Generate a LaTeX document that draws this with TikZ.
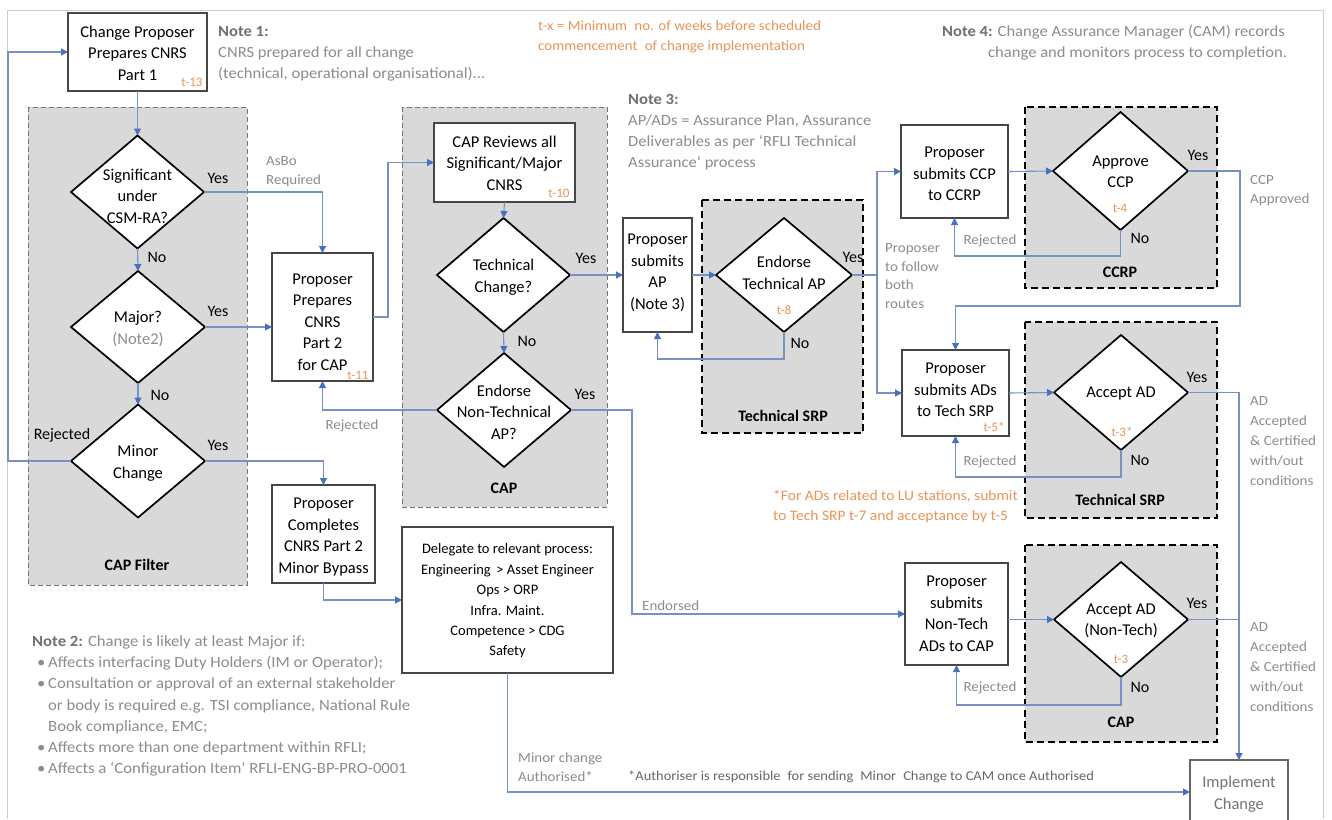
\documentclass[tikz,border=0pt]{standalone}
\usepackage{fontspec}
\setmainfont{Carlito}
\newfontfamily\wfont{Carlito}[FakeStretch=1.07]
\usetikzlibrary{shapes.geometric,arrows.meta}
\definecolor{conn}{RGB}{118,146,196}
\definecolor{tip}{RGB}{72,112,190}
\definecolor{panel}{RGB}{217,217,217}
\definecolor{notec}{RGB}{140,140,140}
\definecolor{noteb}{RGB}{112,112,112}
\definecolor{orng}{RGB}{232,148,88}
\definecolor{boxc}{RGB}{70,70,70}
\definecolor{framec}{RGB}{205,205,205}
\newcommand{\fz}[2]{\fontsize{#1}{#2}\selectfont}
\begin{document}
\begin{tikzpicture}[x=1pt,y=-1pt,
  box/.style={draw=boxc,line width=1.1pt,fill=white,align=center,inner sep=0pt,outer sep=0pt,font=\fz{16.5}{21.5}},
  dia/.style={diamond,draw=black,line width=1.7pt,fill=white,inner sep=0pt,outer sep=0pt},
  dtxt/.style={align=center,inner sep=0pt,font=\fz{16.5}{21.5}},
  tx/.style={inner sep=0pt,text=orng,font=\fz{13}{15}},
  yn/.style={inner sep=0pt,font=\fz{16}{19}},
  plab/.style={inner sep=0pt,font=\fz{16}{19}\bfseries},
  glab/.style={inner sep=0pt,text=notec,align=left,font=\wfont\fz{14}{19}},
  note/.style={inner sep=0pt,text=notec,align=left,font=\wfont\fz{15.5}{21}},
  panelg/.style={fill=panel,draw=black!55,line width=1pt,dash pattern=on 5pt off 3pt},
  panelk/.style={fill=panel,draw=black,line width=2pt,dash pattern=on 7pt off 4pt},
  conn/.style={draw=conn,line width=1.1pt},
  arr/.style={conn,-{Triangle[length=7pt,width=7pt,color=tip]}}]
\useasboundingbox (0,0) rectangle (1332,819);
\fill[white] (0,0) rectangle (1332,819);
\draw[framec,line width=1pt] (7,819) -- (7,10) -- (1323,10) -- (1323,819);

% panels
\draw[panelg] (28,107) rectangle (247,585);
\draw[panelg] (402,107) rectangle (607,507);
\draw[panelk] (702,200) rectangle (863,433);
\draw[panelk] (1025,107) rectangle (1217,288);
\draw[panelk] (1025,322) rectangle (1217,518);
\draw[panelk] (1025,545) rectangle (1217,742);
\node[plab] (pl1) at (137,565) {CAP Filter};
\node[plab] (pl2) at (504,488) {CAP};
\node[plab] (pl3) at (783,416) {Technical SRP};
\node[plab] (pl4) at (1120,272) {CCRP};
\node[plab] (pl5) at (1120,500) {Technical SRP};
\node[plab] (pl6) at (1121,722) {CAP};

% boxes
\node[box,minimum width=139pt,minimum height=78pt] (box1) at (137.5,52) {};
\node[dtxt] (box1t) at (137.5,53) {Change Proposer\\Prepares CNRS\\Part 1};
\node[box,minimum width=101pt,minimum height=128pt] (part2) at (322.5,317) {};
\node[dtxt] (part2t) at (322.5,322) {Proposer\\Prepares\\CNRS\\Part 2\\for CAP};
\node[box,minimum width=103pt,minimum height=98pt] (minor) at (323.5,534) {};
\node[dtxt] (minort) at (323.5,537) {Proposer\\Completes\\CNRS Part 2\\Minor Bypass};
\node[box,minimum width=141pt,minimum height=79pt] (rev) at (504.5,162.5) {};
\node[dtxt] (revt) at (504.5,163) {CAP Reviews all\\Significant/Major\\CNRS};
\node[box,minimum width=69pt,minimum height=114pt] (ap) at (657.5,275) {};
\node[dtxt] (apt) at (657.5,273) {Proposer\\submits\\AP\\(Note 3)};
\node[box,minimum width=211pt,minimum height=146pt] (del) at (507.5,600) {};
\node[dtxt,font=\fz{14.5}{20.4}] (delt) at (507.5,601) {Delegate to relevant process:\\Engineering \,> Asset Engineer\\Ops > ORP\\Infra. Maint.\\Competence > CDG\\Safety};
\node[box,minimum width=107pt,minimum height=93pt] (ccp) at (954.5,171.5) {};
\node[dtxt] (ccpt) at (954.5,174) {Proposer\\submits CCP\\to CCRP};
\node[box,minimum width=107pt,minimum height=86pt] (ads) at (955.5,393) {};
\node[dtxt] (adst) at (955.5,390) {Proposer\\submits ADs\\to Tech SRP};
\node[box,minimum width=103pt,minimum height=102pt] (nt) at (956.5,614) {};
\node[dtxt] (ntt) at (956.5,614) {Proposer\\submits\\Non-Tech\\ADs to CAP};
\node[box,draw=black!60,minimum width=98pt,minimum height=64pt] (impl) at (1239,792) {};
\node[dtxt,text=black!55] (implt) at (1239,794) {Implement\\Change};

% diamonds
\node[dia,minimum width=133pt,minimum height=113pt] (d1) at (137.5,192) {};
\node[dtxt] (d1t) at (137.5,196) {Significant\\under\\CSM-RA?};
\node[dia,minimum width=134pt,minimum height=112pt] (d2) at (138,327) {};
\node[dtxt] (d2t) at (138,329) {Major?\\\textcolor{notec}{(Note2)}};
\node[dia,minimum width=134pt,minimum height=113pt] (d3) at (138,461) {};
\node[dtxt] (d3t) at (138,463) {Minor\\Change};
\node[dia,minimum width=133pt,minimum height=114pt] (d4) at (503.5,275) {};
\node[dtxt] (d4t) at (503.5,277) {Technical\\Change?};
\node[dia,minimum width=134pt,minimum height=114pt] (d5) at (504,410) {};
\node[dtxt] (d5t) at (504,412) {Endorse\\Non-Technical\\AP?};
\node[dia,minimum width=136pt,minimum height=114pt] (d6) at (784,275) {};
\node[dtxt] (d6t) at (784,273) {Endorse\\Technical AP};
\node[dia,minimum width=135pt,minimum height=118pt] (d7) at (1120.5,171) {};
\node[dtxt] (d7t) at (1120.5,172) {Approve\\CCP};
\node[dia,minimum width=134pt,minimum height=115pt] (d8) at (1121,392.5) {};
\node[dtxt] (d8t) at (1121,394) {Accept AD};
\node[dia,minimum width=134pt,minimum height=115pt] (d9) at (1121,619.5) {};
\node[dtxt] (d9t) at (1121,621) {Accept AD\\(Non-Tech)};

% t-markers
\node[tx] (t13) at (192,82) {t-13};
\node[tx] (t11) at (358,375) {t-11};
\node[tx] (t10) at (559,193) {t-10};
\node[tx] (t8) at (784,310) {t-8};
\node[tx] (t4) at (1120,208) {t-4};
\node[tx] (t5) at (994,427) {t-5*};
\node[tx] (t3s) at (1122,432) {t-3*};
\node[tx] (t3) at (1121,659) {t-3};

% connectors
\coordinate (lft) at (8,300);
\coordinate (c2) at (388,250);
\coordinate (c3) at (632,500);
\coordinate (c4) at (720,359);
\coordinate (split) at (877,275);
\coordinate (c5) at (1040,256);
\coordinate (c6) at (1240,306);
\coordinate (c7) at (1040,477);
\coordinate (c8) at (1040,705);
\draw[arr] (box1.south) -- (d1.north);
\draw[arr] (d1.east) -| (part2.north);
\draw[arr] (d1.south) -- (d2.north);
\draw[arr] (d2.east) -- (d2.east -| part2.west);
\draw[arr] (d2.south) -- (d3.north);
\draw[arr] (d3.east) -| (minor.north);
\draw[arr] (d3.west) -| (lft) |- (box1.west);
\draw[arr] (part2.east) -| (c2) |- (rev.west);
\draw[arr] (rev.south) -- (d4.north);
\draw[arr] (d4.east) -- (ap.west);
\draw[arr] (d4.south) -- (d5.north);
\draw[arr] (d5.west) -| (part2.south);
\draw[arr] (d5.east) -| (c3) |- (nt.west);
\draw[arr] (ap.east) -- (d6.west);
\draw[arr] (d6.south) |- (c4) -| (ap.south);
\draw[conn] (d6.east) -- (split);
\draw[arr] (split) |- (ccp.west);
\draw[arr] (split) |- (ads.west);
\draw[arr] (ccp.east) -- (d7.west);
\draw[arr] (d7.south) |- (c5) -| (ccp.south);
\draw[arr] (d7.east) -| (c6) -| (ads.north);
\draw[arr] (ads.east) -- (d8.west);
\draw[arr] (d8.south) |- (c7) -| (ads.south);
\draw[arr] (d8.east) -| (impl.north);
\draw[arr] (d9.west -| nt.east) -- (d9.west);
\draw[arr] (d9.south) |- (c8) -| (nt.south);
\draw[conn] (d9.east) -- (d9.east -| impl.north);
\draw[arr] (minor.south) |- (del.west);
\draw[arr] (del.south) |- (impl.west);

% yes / no
\node[yn] (y1) at (218,178) {Yes};
\node[yn] (n1) at (157,257) {No};
\node[yn] (y2) at (218,311) {Yes};
\node[yn] (n2) at (160,395) {No};
\node[yn] (y3) at (218,445) {Yes};
\node[yn] (rj0) at (62,435) {Rejected};
\node[yn] (y4) at (586,258) {Yes};
\node[yn] (n4) at (527,341) {No};
\node[yn] (y5) at (585,394) {Yes};
\node[yn] (y6) at (853,257) {Yes};
\node[yn] (n6) at (800,343) {No};
\node[yn] (y7) at (1198,155) {Yes};
\node[yn] (n7) at (1140,238) {No};
\node[yn] (y8) at (1197,377) {Yes};
\node[yn] (n8) at (1140,460) {No};
\node[yn] (y9) at (1197,603) {Yes};
\node[yn] (n9) at (1140,687) {No};

% grey connector labels
\node[glab,anchor=west] (asbo) at (266,172) {AsBo\\Required};
\node[glab] (rj1) at (352,426) {Rejected};
\node[glab,anchor=west] (endo) at (642,606) {Endorsed};
\node[glab,anchor=west,font=\wfont\fz{14}{18.5}] (follow) at (885,276) {Proposer\\to follow\\both\\routes};
\node[glab] (rj2) at (990,241) {Rejected};
\node[glab] (rj3) at (990,462) {Rejected};
\node[glab] (rj4) at (990,688) {Rejected};
\node[glab,anchor=west] (ccpa) at (1250,191) {CCP\\Approved};
\node[glab,anchor=west,font=\wfont\fz{14}{20.2}] (ada1) at (1250,441) {AD\\Accepted\\\& Certified\\with/out\\conditions};
\node[glab,anchor=west,font=\wfont\fz{14}{20.2}] (ada2) at (1250,667) {AD\\Accepted\\\& Certified\\with/out\\conditions};
\node[glab,anchor=west] (mca) at (518,767.5) {Minor change\\Authorised*};
\node[glab,anchor=west,text=black!60,font=\wfont\fz{13.5}{16}] (auth) at (628,777) {*Authoriser is responsible \;for sending \;Minor \;Change to CAM once Authorised};

% notes
\node[note,anchor=west] (note1) at (218,53.5) {{\color{noteb}\bfseries Note 1:}\\CNRS prepared for all change\\(technical, operational organisational)...};
\node[note,anchor=west,text=orng,font=\wfont\fz{14}{20}] (notetx) at (538,37) {t-x = Minimum \;no. of weeks before scheduled\\commencement \;of change implementation};
\node[note,anchor=west] (note3) at (628,132) {{\color{noteb}\bfseries Note 3:}\\AP/ADs = Assurance Plan, Assurance\\Deliverables as per ‘RFLI Technical\\Assurance’ process};
\node[note,anchor=west] (note4a) at (942,32) {{\color{noteb}\bfseries Note 4:} Change Assurance Manager (CAM) records};
\node[note,anchor=west] (note4b) at (988,53) {change and monitors process to completion.};
\node[note,anchor=west,font=\wfont\fz{15.6}{21.3}] (note2) at (32,706) {{\color{noteb}\bfseries Note 2:} Change is likely at least Major if:\\
\hspace*{5pt}\makebox[11pt][l]{•}Affects interfacing Duty Holders (IM or Operator);\\
\hspace*{5pt}\makebox[11pt][l]{•}Consultation or approval of an external stakeholder\\
\hspace*{16pt}or body is required e.g. TSI compliance, National Rule\\
\hspace*{16pt}Book compliance, EMC;\\
\hspace*{5pt}\makebox[11pt][l]{•}Affects more than one department within RFLI;\\
\hspace*{5pt}\makebox[11pt][l]{•}Affects a ‘Configuration Item’ RFLI-ENG-BP-PRO-0001};
\node[note,anchor=west,text=orng,font=\wfont\fz{14.5}{20}] (notelu) at (773,507) {*For ADs related to LU stations, submit\\to Tech SRP t-7 and acceptance by t-5};
\end{tikzpicture}
\end{document}
